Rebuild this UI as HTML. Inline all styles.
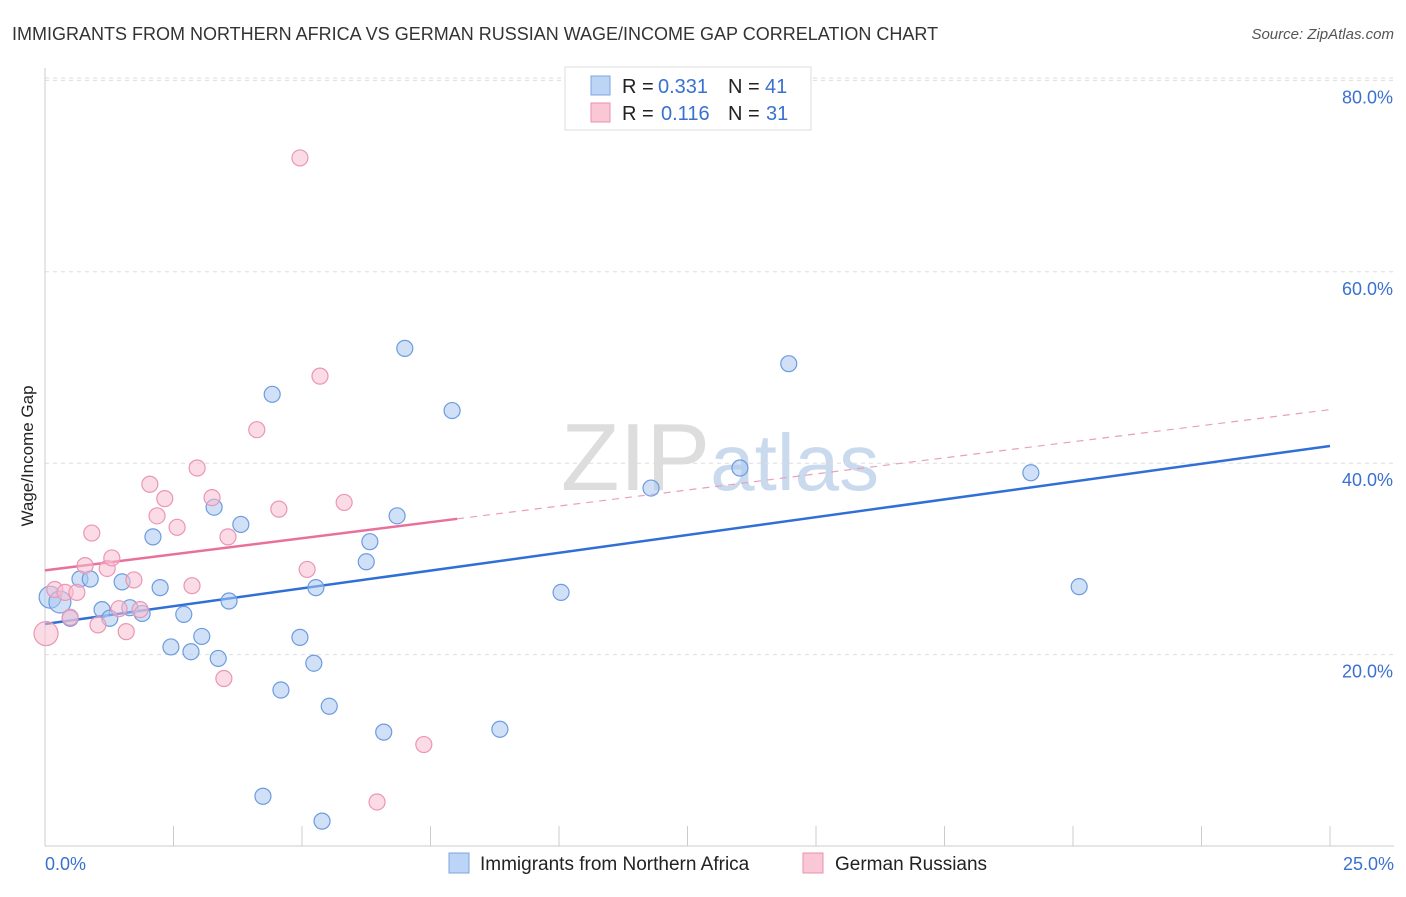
<!DOCTYPE html>
<html><head><meta charset="utf-8"><style>
body{margin:0;background:#fff;font-family:"Liberation Sans",sans-serif;}
svg text{font-family:"Liberation Sans",sans-serif;}
</style></head><body>
<svg id="chart" width="1406" height="892" xmlns="http://www.w3.org/2000/svg">
<text x="12" y="40" font-size="18" fill="#333">IMMIGRANTS FROM NORTHERN AFRICA VS GERMAN RUSSIAN WAGE/INCOME GAP CORRELATION CHART</text>
<text x="1394" y="39" font-size="15" fill="#555" text-anchor="end" font-style="italic">Source: ZipAtlas.com</text>
<text x="720" y="490" font-size="96" fill="#ddd" text-anchor="middle" font-family="Liberation Serif">ZIP<tspan fill="#c9d9ee" font-family="Liberation Sans" font-size="80">atlas</tspan></text>
<text transform="translate(33,456) rotate(-90)" font-size="17" fill="#222" text-anchor="middle">Wage/Income Gap</text>
<g id="grid"></g><g id="axes"></g><g id="trends"></g><g id="points"></g>
<g>
<rect x="565" y="67" width="246" height="63" fill="#fff" stroke="#ddd"/>
<rect x="591" y="76" width="19" height="19" fill="#bcd4f5" stroke="#7aa6e0"/>
<text x="622" y="93" font-size="20" fill="#222">R =</text>
<text x="658" y="93" font-size="20" fill="#3a70d0">0.331</text>
<text x="728" y="93" font-size="20" fill="#222">N =</text>
<text x="765" y="93" font-size="20" fill="#3a70d0">41</text>
<rect x="591" y="103" width="19" height="19" fill="#f9c7d6" stroke="#ec90ad"/>
<text x="622" y="120" font-size="20" fill="#222">R =</text>
<text x="661" y="120" font-size="20" fill="#3a70d0">0.116</text>
<text x="728" y="120" font-size="20" fill="#222">N =</text>
<text x="766" y="120" font-size="20" fill="#3a70d0">31</text>
</g>
<g>
<rect x="449" y="853" width="20" height="20" fill="#bcd4f5" stroke="#7aa6e0"/>
<text x="480" y="870" font-size="19" fill="#222">Immigrants from Northern Africa</text>
<rect x="803" y="853" width="20" height="20" fill="#f9c7d6" stroke="#ec90ad"/>
<text x="835" y="870" font-size="19" fill="#222">German Russians</text>
</g>
</svg>
<script>
const yTicks=[20,40,60,80];
const yTickLabels=["20.0%","40.0%","60.0%","80.0%"];
const xTickLabels=["0.0%","25.0%"];
const blueX=[0.10,0.29,0.49,0.68,0.88,1.11,1.26,1.50,1.65,1.89,2.10,2.24,2.45,2.70,2.84,3.05,3.29,3.37,3.58,3.81,4.24,4.42,4.59,4.96,5.23,5.27,5.39,5.53,6.25,6.32,6.59,6.85,7.00,7.92,8.85,10.04,11.79,13.52,14.47,19.18,20.12];
const blueY=[26.0,25.5,23.8,27.9,27.9,24.7,23.8,27.6,24.9,24.3,32.3,27.0,20.8,24.2,20.3,21.9,35.4,19.6,25.6,33.6,5.2,47.2,16.3,21.8,19.1,27.0,2.6,14.6,29.7,31.8,11.9,34.5,52.0,45.5,12.2,26.5,37.4,39.5,50.4,39.0,27.1];
const pinkX=[0.02,0.19,0.39,0.49,0.62,0.78,0.91,1.03,1.21,1.30,1.44,1.58,1.73,1.85,2.04,2.18,2.33,2.57,2.86,2.96,3.25,3.48,3.56,4.12,4.55,4.96,5.10,5.35,5.82,6.46,7.37];
const pinkY=[22.2,26.8,26.5,23.9,26.5,29.3,32.7,23.1,29.0,30.1,24.8,22.4,27.8,24.7,37.8,34.5,36.3,33.3,27.2,39.5,36.4,17.5,32.3,43.5,35.2,71.9,28.9,49.1,35.9,4.6,10.6];
const blueTrend=[23.2,41.8];
const pinkTrend=[28.8,45.6];
const pinkSolidEnd=8.02;
const X=v=>45+v*51.4, Y=v=>846-v*9.57;
const NS="http://www.w3.org/2000/svg";
function mk(t,a,p){const e=document.createElementNS(NS,t);for(const k in a)e.setAttribute(k,a[k]);p.appendChild(e);return e;}
const grid=document.getElementById('grid'),axes=document.getElementById('axes'),tr=document.getElementById('trends'),pts=document.getElementById('points');
yTicks.forEach((t,i)=>{
 const l=mk('line',{x1:45,x2:1394,y1:Y(t),y2:Y(t),stroke:'#ddd','stroke-dasharray':'4,4'},grid);
 
 
 const tx=mk('text',{x:1393,y:Y(t)+23,'font-size':18,fill:'#3a70d0','text-anchor':'end'},axes);
 tx.textContent=yTickLabels[i];
 
 
});
const topGrid=mk('line',{x1:45,x2:1394,y1:78,y2:78,stroke:'#ddd','stroke-dasharray':'4,4'},grid);


const ya=mk('line',{x1:45,x2:45,y1:68,y2:846,stroke:'#ccc'},axes);


const xa=mk('line',{x1:45,x2:1394,y1:846,y2:846,stroke:'#ccc'},axes);


for(let i=0;i<=10;i++){const tk=mk('line',{x1:X(i*2.5),x2:X(i*2.5),y1:826,y2:846,stroke:'#ccc'},axes);
 
 }
[[0,'start',45],[25,'end',1394]].forEach((d,i)=>{const t=mk('text',{x:d[2],y:870,'font-size':18,fill:'#3a70d0','text-anchor':d[1]},axes);t.textContent=xTickLabels[i];
 
 });
const pAt=x=>pinkTrend[0]+(pinkTrend[1]-pinkTrend[0])*x/25;
const l1=mk('line',{x1:X(0),y1:Y(blueTrend[0]),x2:X(25),y2:Y(blueTrend[1]),stroke:'#2f6fd6','stroke-width':2.5},tr);


const l2=mk('line',{x1:X(0),y1:Y(pAt(0)),x2:X(pinkSolidEnd),y2:Y(pAt(pinkSolidEnd)),stroke:'#e8709a','stroke-width':2.5},tr);


const l3=mk('line',{x1:X(pinkSolidEnd),y1:Y(pAt(pinkSolidEnd)),x2:X(25),y2:Y(pAt(25)),stroke:'#e8a0b8','stroke-width':1.2,'stroke-dasharray':'7,6'},tr);


blueX.forEach((x,i)=>{const c=mk('circle',{cx:X(x),cy:Y(blueY[i]),r:i<2?11:8,fill:'rgba(170,200,240,0.55)',stroke:'#6d9be0','stroke-width':1.2},pts);
 
 });
pinkX.forEach((x,i)=>{const c=mk('circle',{cx:X(x),cy:Y(pinkY[i]),r:i==0?12:8,fill:'rgba(248,190,210,0.55)',stroke:'#eb96b3','stroke-width':1.2},pts);
 
 });
</script>
</body></html>
